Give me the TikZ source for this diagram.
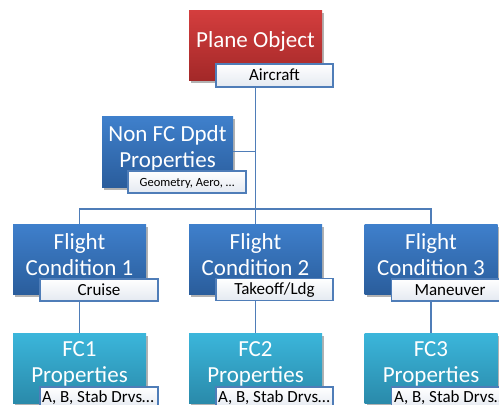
\documentclass[tikz,border=0pt]{standalone}
\usepackage{fontspec}
\setmainfont{Carlito}
\usetikzlibrary{shadows}
\definecolor{redtop}{HTML}{D43E3E}
\definecolor{redbot}{HTML}{A32828}
\definecolor{bluetop}{HTML}{3F80CC}
\definecolor{bluebot}{HTML}{2A5D9C}
\definecolor{cyantop}{HTML}{3BB6DB}
\definecolor{cyanbot}{HTML}{2A8AAA}
\definecolor{connc}{HTML}{4F7DB8}
\definecolor{labbot}{HTML}{E4E9F1}
\begin{document}
\begin{tikzpicture}[x=1pt,y=-1pt,
  boxbase/.style={rectangle, draw=none, inner sep=0pt, minimum width=133pt, minimum height=70pt,
     drop shadow={shadow xshift=2pt, shadow yshift=-2.5pt, fill=black, opacity=0.3}},
  redbox/.style={boxbase, top color=redtop, bottom color=redbot},
  bluebox/.style={boxbase, top color=bluetop, bottom color=bluebot},
  cyanbox/.style={boxbase, top color=cyantop, bottom color=cyanbot},
  labbox/.style={rectangle, draw=connc, line width=1.2pt, inner sep=0pt, minimum width=117pt, minimum height=22pt,
     top color=white, bottom color=labbot},
  maintxt/.style={anchor=base, text=white, inner sep=0pt, font=\fontsize{23}{26}\selectfont},
  labtxt/.style={anchor=base, text=black, inner sep=0pt, font=\fontsize{17}{20}\selectfont},
  smalltxt/.style={anchor=base, text=black, inner sep=0pt, font=\fontsize{12.5}{15}\selectfont},
  conn/.style={draw=connc, line width=1.5pt}]
\useasboundingbox (0,0) rectangle (499,405);
\clip (0,0) rectangle (499,405);

% Plane Object
\node[redbox] (plane) at (255.5,45) {};
\node[maintxt] (planet) at (255.5,47) {Plane Object};
\node[labbox, minimum height=23pt] (air) at (274.5,75.5) {};
\node[labtxt] (airt) at (274.5,80) {Aircraft};

% Non FC
\node[bluebox, minimum width=131pt, minimum height=71pt] (nonfc) at (167.5,151.5) {};
\node[maintxt] (nonfca) at (167.5,141) {Non FC Dpdt};
\node[maintxt] (nonfcb) at (167.5,167) {Properties};
\node[labbox, minimum width=118pt] (geo) at (187,182) {};
\node[smalltxt] (geot) at (187,186.5) {Geometry, Aero, …};

% Flight conditions
\node[bluebox] (fc1) at (79.5,259) {};
\node[maintxt] (fc1a) at (79.5,249) {Flight};
\node[maintxt] (fc1b) at (79.5,275) {Condition 1};
\node[labbox, minimum width=118pt] (cr) at (99,290) {};
\node[labtxt] (crt) at (99,295) {Cruise};

\node[bluebox] (fc2) at (255.5,259) {};
\node[maintxt] (fc2a) at (255.5,249) {Flight};
\node[maintxt] (fc2b) at (255.5,275) {Condition 2};
\node[labbox] (to) at (274.5,289.5) {};
\node[labtxt] (tot) at (274.5,294.5) {Takeoff/Ldg};

\node[bluebox] (fc3) at (431,259) {};
\node[maintxt] (fc3a) at (431,249) {Flight};
\node[maintxt] (fc3b) at (431,275) {Condition 3};
\node[labbox] (ma) at (450,290) {};
\node[labtxt] (mat) at (450,295) {Maneuver};

% FC properties
\node[cyanbox] (p1) at (79.5,368) {};
\node[maintxt] (p1a) at (79.5,356) {FC1};
\node[maintxt] (p1b) at (79.5,382) {Properties};
\node[labbox, minimum width=118pt] (d1) at (99,398) {};
\node[labtxt] (d1t) at (98,402) {A, B, Stab Drvs…};

\node[cyanbox] (p2) at (255.5,368) {};
\node[maintxt] (p2a) at (255.5,356) {FC2};
\node[maintxt] (p2b) at (255.5,382) {Properties};
\node[labbox] (d2) at (274.5,398) {};
\node[labtxt] (d2t) at (274,402) {A, B, Stab Drvs…};

\node[cyanbox] (p3) at (431,368) {};
\node[maintxt] (p3a) at (431,356) {FC3};
\node[maintxt] (p3b) at (431,382) {Properties};
\node[labbox] (d3) at (450,398) {};
\node[labtxt] (d3t) at (450,402) {A, B, Stab Drvs…};

% connectors
\coordinate (bus) at (255.5,209);
\draw[conn] (plane.south |- air.south) -- (plane.south |- bus);
\draw[conn] (nonfc.east) -- (nonfc.east -| plane.south);
\draw[conn] (fc1.north) -- (fc1.north |- bus) -- (fc3.north |- bus) -- (fc3.north);
\draw[conn] (fc2.north) -- (fc2.north |- bus);
\draw[conn] (fc1.south |- cr.south) -- (p1.north);
\draw[conn] (fc2.south |- to.south) -- (p2.north);
\draw[conn] (fc3.south |- ma.south) -- (p3.north);
\end{tikzpicture}
\end{document}
